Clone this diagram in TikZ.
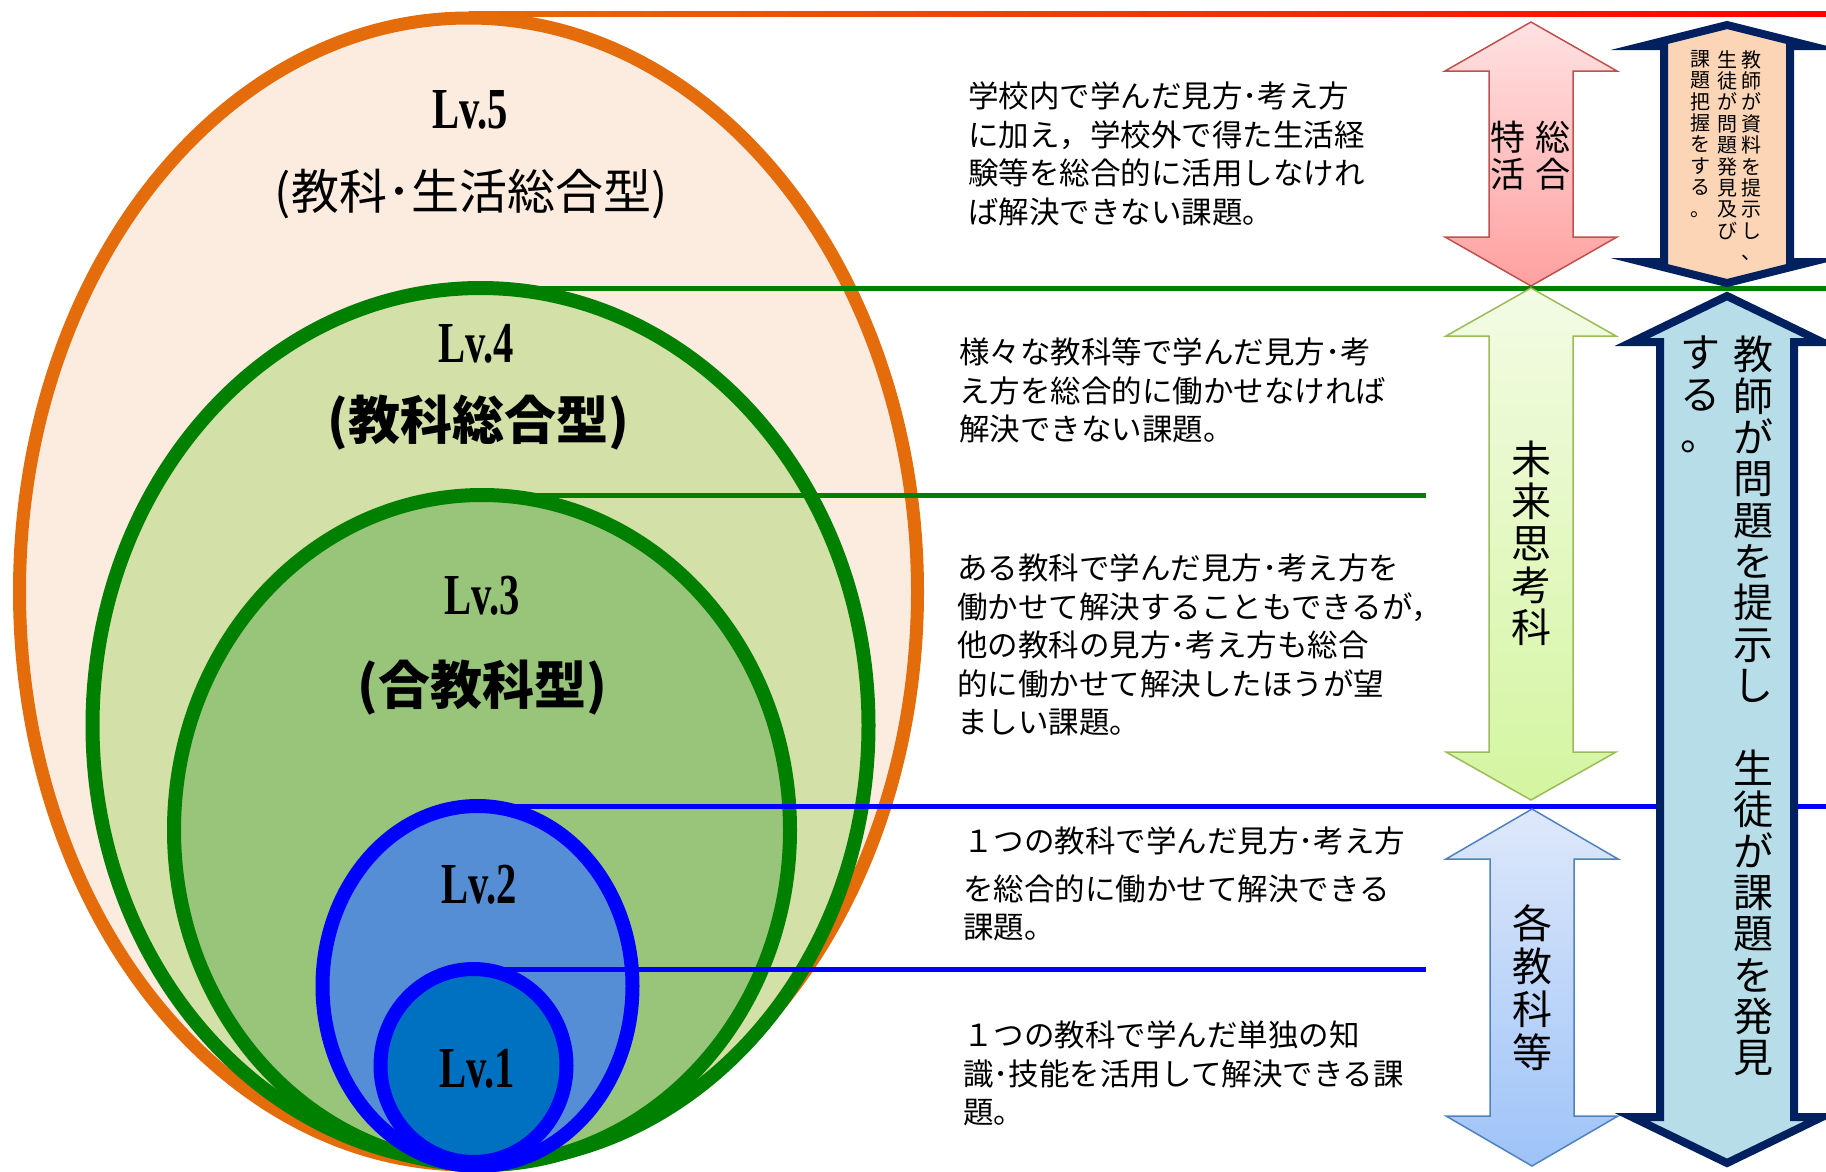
\documentclass[tikz,border=0pt]{standalone}
\usepackage{fontspec}
\newfontfamily\jfont{Noto Sans CJK JP}
\newfontfamily\lvfont[FakeStretch=0.7]{Liberation Serif}
\usetikzlibrary{shapes.geometric,calc}

\definecolor{lvorange}{HTML}{E46C0A}
\definecolor{lvgreen}{HTML}{008000}
\definecolor{fillfive}{HTML}{FCEBDF}
\definecolor{fillfour}{HTML}{D3E0A8}
\definecolor{fillthree}{HTML}{98C57A}
\definecolor{filltwo}{HTML}{558ED5}
\definecolor{fillone}{HTML}{0070C0}
\definecolor{navy}{HTML}{002060}
\definecolor{peach}{HTML}{FBD5B5}
\definecolor{skyblue}{HTML}{B7DDE8}

\tikzstyle{level}=[ellipse,inner sep=0pt,outer sep=0pt,line width=14pt]
\tikzstyle{lvname}=[font=\lvfont\bfseries\fontsize{58}{62}\selectfont]
\tikzstyle{kind}=[font=\jfont\bfseries\fontsize{52}{58}\selectfont]
\tikzstyle{remark}=[anchor=north west,align=left,font=\jfont\fontsize{30.5}{38.5}\selectfont]
\tikzstyle{tate}=[anchor=north,align=center]
\tikzstyle{rim}=[line width=5pt]
\tikzstyle{pinkarrow}=[draw={rgb,255:red,192;green,80;blue,77},line width=1.5pt,
  top color={rgb,255:red,255;green,226;blue,226},bottom color={rgb,255:red,255;green,160;blue,160}]
\tikzstyle{greenarrow}=[draw={rgb,255:red,155;green,187;blue,89},line width=1.5pt,
  top color={rgb,255:red,243;green,251;blue,228},bottom color={rgb,255:red,212;green,245;blue,160}]
\tikzstyle{bluearrow}=[draw={rgb,255:red,79;green,129;blue,189},line width=1.5pt,
  top color={rgb,255:red,222;green,232;blue,250},bottom color={rgb,255:red,158;green,195;blue,248}]
\tikzstyle{navyarrow}=[draw=navy,line width=8pt]

% up and down arrow: style, x, top, bottom, head half width, shaft half width, head length
\newcommand{\updown}[7]{%
  \path[#1] (#2,#3) -- (#2+#5,#3+#7) -- (#2+#6,#3+#7) -- (#2+#6,#4-#7)
    -- (#2+#5,#4-#7) -- (#2,#4) -- (#2-#5,#4-#7) -- (#2-#6,#4-#7)
    -- (#2-#6,#3+#7) -- (#2-#5,#3+#7) -- cycle;}

\begin{document}
\begin{tikzpicture}[x=1pt,y=-1pt,inner sep=0pt]
  \useasboundingbox (0,0) rectangle (1826,1171);
  \coordinate (edge) at (1826,0);
  \coordinate (mid) at (1426,0);

  % nested levels
  \node[level,draw=lvorange,fill=fillfive,line width=13pt,minimum width=898pt,minimum height=1147pt] (lv5) at (468.5,591.5) {};
  \node[level,draw=lvgreen,fill=fillfour,minimum width=776pt,minimum height=875pt] (lv4) at (480.5,725.5) {};
  \node[level,draw=lvgreen,fill=fillthree,minimum width=616pt,minimum height=670pt] (lv3) at (482,830) {};
  \node[level,draw=blue,fill=filltwo,minimum width=310pt,minimum height=360pt] (lv2) at (477.5,986) {};
  \node[level,draw=blue,fill=fillone,minimum width=186pt,minimum height=193pt] (lv1) at (473.5,1065.5) {};

  \node[lvname] (name5) at (470,110) {Lv.5};
  \node[font=\jfont\fontsize{48}{54}\selectfont] (kind5) at (471,194) {(教科･生活総合型)};
  \node[lvname] (name4) at (476,344) {Lv.4};
  \node[kind] (kind4) at (478,423) {(教科総合型)};
  \node[lvname] (name3) at (482,596) {Lv.3};
  \node[kind] (kind3) at (482,688) {(合教科型)};
  \node[lvname] (name2) at (479,885) {Lv.2};
  \node[lvname] (name1) at (477,1069) {Lv.1};

  % borders between the levels
  \shade[left color=lvorange,right color=red] ($(lv5.north)+(0,-6.5)$) rectangle ($(lv5.north -| edge)+(0,-1.5)$);
  \draw[rim,lvgreen] (lv4.north) -- (lv4.north -| edge);
  \draw[rim,lvgreen] (lv3.north) -- (lv3.north -| mid);
  \draw[rim,blue] (lv2.north) -- (lv2.north -| edge);
  \draw[rim,blue] (lv1.north) -- (lv1.north -| mid);

  \node[remark] (text5) at (968,82) {学校内で学んだ見方･考え方\\に加え，学校外で得た生活経\\験等を総合的に活用しなけれ\\ば解決できない課題。};
  \node[remark] (text4) at (959,338) {様々な教科等で学んだ見方･考\\え方を総合的に働かせなければ\\解決できない課題。};
  \node[remark] (text3) at (957,554) {ある教科で学んだ見方･考え方を\\働かせて解決することもできるが，\\他の教科の見方･考え方も総合\\的に働かせて解決したほうが望\\ましい課題。};
  \node[remark] (text2) at (963,827) {１つの教科で学んだ見方･考え方\\[9pt]を総合的に働かせて解決できる\\課題。};
  \node[remark] (text1) at (963,1021) {１つの教科で学んだ単独の知\\識･技能を活用して解決できる課\\題。};

  % arrows on the right
  \updown{pinkarrow}{1531}{22}{286}{86}{42}{49}
  \updown{greenarrow}{1531}{288}{800}{85}{42}{48}
  \updown{bluearrow}{1532}{809}{1166}{86}{42}{50}
  \updown{navyarrow,fill=peach}{1727}{25}{283}{84}{63}{21}
  \updown{navyarrow,fill=skyblue}{1727}{296}{1163}{95}{67}{46}

  \node[tate,font=\jfont\fontsize{35}{36.5}\selectfont] (sogo) at (1553,121) {総\\合};
  \node[tate,font=\jfont\fontsize{35}{36.5}\selectfont] (tokkatsu) at (1508,121) {特\\活};
  \node[tate,font=\jfont\fontsize{40}{42}\selectfont] (mirai) at (1531,441) {未\\来\\思\\考\\科};
  \node[tate,font=\jfont\fontsize{40}{43}\selectfont] (kaku) at (1532,904) {各\\教\\科\\等};

  \node[tate,font=\jfont\fontsize{20}{21.4}\selectfont] (shiryo) at (1751,50) {教\\師\\が\\資\\料\\を\\提\\示\\し\\、};
  \node[tate,font=\jfont\fontsize{20}{21.4}\selectfont] (hakken) at (1727,50) {生\\徒\\が\\問\\題\\発\\見\\及\\び};
  \node[tate,font=\jfont\fontsize{20}{21.4}\selectfont] (haaku) at (1700,50) {課\\題\\把\\握\\を\\す\\る\\。};

  \node[tate,font=\jfont\fontsize{40}{41.35}\selectfont] (teiji) at (1753,336) {教\\師\\が\\問\\題\\を\\提\\示\\し\\　\\生\\徒\\が\\課\\題\\を\\発\\見};
  \node[tate,font=\jfont\fontsize{40}{41.35}\selectfont] (suru) at (1700,336) {す\\る\\。};
\end{tikzpicture}
\end{document}
